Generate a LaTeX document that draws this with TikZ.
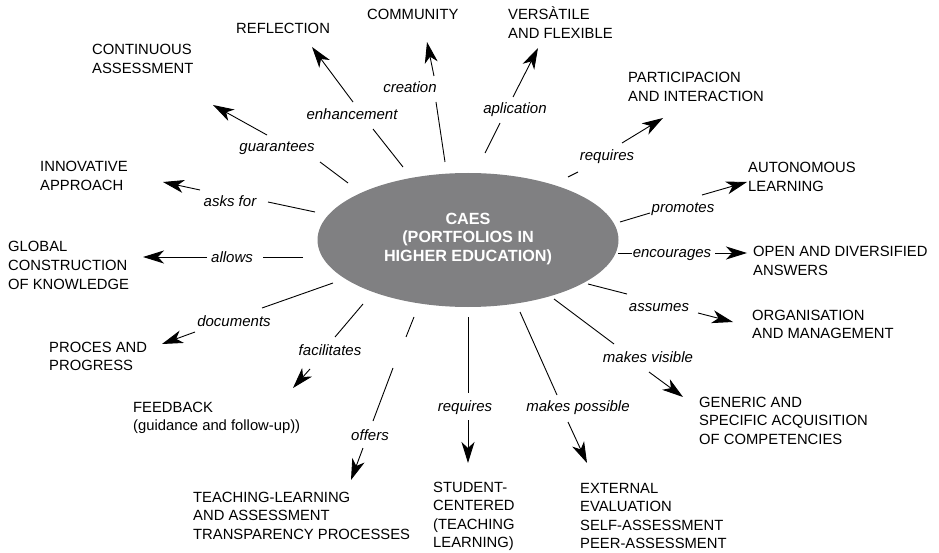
\documentclass[tikz,border=0pt]{standalone}
\usepackage{fontspec}
\setmainfont{Liberation Sans}
\usetikzlibrary{arrows.meta}
\definecolor{ellgray}{RGB}{128,128,130}
\begin{document}
\begin{tikzpicture}[x=1pt,y=-1pt,
  concept/.style={anchor=base west, inner sep=0pt, align=left, font=\fontsize{14.8}{18.5}\selectfont},
  rel/.style={anchor=base, inner sep=0pt, font=\fontsize{15}{18}\selectfont\itshape},
  link/.style={line width=0.9pt},
  arr/.style={line width=0.9pt, -{Stealth[length=21pt,width=13pt,inset=6pt]}}]
\useasboundingbox (0,0) rectangle (939,553);

% central ellipse
\fill[ellgray] (468,240) ellipse [x radius=150.5, y radius=67];
\node[align=center, inner sep=0pt, text=white, font=\fontsize{16.2}{18.4}\selectfont\bfseries] (caes) at (468,239)
  {CAES\\(PORTFOLIOS IN\\HIGHER EDUCATION)};

% concepts (positioned by the baseline of their last line)
\node[concept] (community) at (367,20) {COMMUNITY};
\node[concept] (reflection) at (236,34) {REFLECTION};
\node[concept] (continuous) at (92,73.5) {CONTINUOUS\\ASSESSMENT};
\node[concept] (versatile) at (508,38.5) {VERSÀTILE\\AND FLEXIBLE};
\node[concept] (particip) at (628,101.5) {PARTICIPACION\\AND INTERACTION};
\node[concept] (innovative) at (40,190.5) {INNOVATIVE\\APPROACH};
\node[concept] (autonomous) at (748,191.5) {AUTONOMOUS\\LEARNING};
\node[concept] (global) at (8,289) {GLOBAL\\CONSTRUCTION\\OF KNOWLEDGE};
\node[concept] (open) at (753,275.5) {OPEN AND DIVERSIFIED\\ANSWERS};
\node[concept] (organisation) at (752,338.5) {ORGANISATION\\AND MANAGEMENT};
\node[concept] (proces) at (49,370.5) {PROCES AND\\PROGRESS};
\node[concept] (generic) at (699,444) {GENERIC AND\\SPECIFIC ACQUISITION\\OF COMPETENCIES};
\node[concept] (feedback) at (133,430.5) {FEEDBACK\\(guidance and follow-up))};
\node[concept] (teaching) at (193,539) {TEACHING-LEARNING\\AND ASSESSMENT\\TRANSPARENCY PROCESSES};
\node[concept] (student) at (433,547.5) {STUDENT-\\CENTERED\\(TEACHING\\LEARNING)};
\node[concept] (external) at (580,548.5) {EXTERNAL\\EVALUATION\\SELF-ASSESSMENT\\PEER-ASSESSMENT};

% relation labels
\node[rel] (l-enh) at (352,120) {enhancement};
\node[rel] (l-cre) at (410,93) {creation};
\node[rel] (l-gua) at (277,152) {guarantees};
\node[rel] (l-ask) at (230,207) {asks for};
\node[rel] (l-all) at (232,262) {allows};
\node[rel] (l-apl) at (515,114) {aplication};
\node[rel] (l-req1) at (607,161) {requires};
\node[rel] (l-pro) at (683,213) {promotes};
\node[rel] (l-enc) at (672,258) {encourages};
\node[rel] (l-ass) at (659,311) {assumes};
\node[rel] (l-vis) at (648,362) {makes visible};
\node[rel] (l-pos) at (578,411) {makes possible};
\node[rel] (l-req2) at (465,411) {requires};
\node[rel] (l-off) at (370,440) {offers};
\node[rel] (l-fac) at (330,355) {facilitates};
\node[rel] (l-doc) at (234,326) {documents};

% connector points
\coordinate (enh-a) at (403,167); \coordinate (enh-b) at (373,129);
\coordinate (enh-c) at (353,102); \coordinate (enh-t) at (312,47);
\coordinate (cre-a) at (445,162); \coordinate (cre-b) at (436,102);
\coordinate (cre-c) at (434,76);  \coordinate (cre-t) at (427,42);
\coordinate (gua-a) at (348,183); \coordinate (gua-b) at (320,162);
\coordinate (gua-c) at (267,135); \coordinate (gua-t) at (213,105);
\coordinate (ask-a) at (315,212); \coordinate (ask-b) at (268,202);
\coordinate (ask-c) at (200,190); \coordinate (ask-t) at (163,182);
\coordinate (all-a) at (303,257); \coordinate (all-b) at (263,257);
\coordinate (all-c) at (207,257); \coordinate (all-t) at (143,257);
\coordinate (apl-a) at (485,153); \coordinate (apl-b) at (500,123);
\coordinate (apl-c) at (513,97);  \coordinate (apl-t) at (538,48);
\coordinate (rq1-a) at (568,177); \coordinate (rq1-b) at (578,172);
\coordinate (rq1-c) at (622,143); \coordinate (rq1-t) at (663,118);
\coordinate (pro-a) at (620,222); \coordinate (pro-b) at (650,213);
\coordinate (pro-c) at (702,195); \coordinate (pro-t) at (747,182);
\coordinate (enc-a) at (618,253); \coordinate (enc-b) at (632,253);
\coordinate (enc-c) at (715,253); \coordinate (enc-t) at (747,253);
\coordinate (ass-a) at (588,284); \coordinate (ass-b) at (627,294);
\coordinate (ass-c) at (698,313); \coordinate (ass-t) at (733,322);
\coordinate (vis-a) at (554,299); \coordinate (vis-b) at (614,344);
\coordinate (vis-c) at (649,372); \coordinate (vis-t) at (683,397);
\coordinate (pos-a) at (520,312); \coordinate (pos-b) at (557,395);
\coordinate (pos-c) at (568,422); \coordinate (pos-t) at (587,463);
\coordinate (rq2-a) at (468,317); \coordinate (rq2-b) at (468,393);
\coordinate (rq2-c) at (468,420); \coordinate (rq2-t) at (468,463);
\coordinate (off-a) at (414,317); \coordinate (off-b) at (406,337);
\coordinate (off-d) at (393,368); \coordinate (off-e) at (373,421);
\coordinate (off-c) at (363,448); \coordinate (off-t) at (351,480);
\coordinate (fac-a) at (363,304); \coordinate (fac-b) at (335,337);
\coordinate (fac-c) at (310,369); \coordinate (fac-t) at (293,388);
\coordinate (doc-a) at (333,283); \coordinate (doc-b) at (262,308);
\coordinate (doc-c) at (195,332); \coordinate (doc-t) at (162,344);

% connectors
\draw[link] (enh-a) -- (enh-b); \draw[arr] (enh-c) -- (enh-t);
\draw[link] (cre-a) -- (cre-b); \draw[arr] (cre-c) -- (cre-t);
\draw[link] (gua-a) -- (gua-b); \draw[arr] (gua-c) -- (gua-t);
\draw[link] (ask-a) -- (ask-b); \draw[arr] (ask-c) -- (ask-t);
\draw[link] (all-a) -- (all-b); \draw[arr] (all-c) -- (all-t);
\draw[link] (apl-a) -- (apl-b); \draw[arr] (apl-c) -- (apl-t);
\draw[link] (rq1-a) -- (rq1-b); \draw[arr] (rq1-c) -- (rq1-t);
\draw[link] (pro-a) -- (pro-b); \draw[arr] (pro-c) -- (pro-t);
\draw[link] (enc-a) -- (enc-b); \draw[arr] (enc-c) -- (enc-t);
\draw[link] (ass-a) -- (ass-b); \draw[arr] (ass-c) -- (ass-t);
\draw[link] (vis-a) -- (vis-b); \draw[arr] (vis-c) -- (vis-t);
\draw[link] (pos-a) -- (pos-b); \draw[arr] (pos-c) -- (pos-t);
\draw[link] (rq2-a) -- (rq2-b); \draw[arr] (rq2-c) -- (rq2-t);
\draw[link] (off-a) -- (off-b); \draw[link] (off-d) -- (off-e); \draw[arr] (off-c) -- (off-t);
\draw[link] (fac-a) -- (fac-b); \draw[arr] (fac-c) -- (fac-t);
\draw[link] (doc-a) -- (doc-b); \draw[arr] (doc-c) -- (doc-t);
\end{tikzpicture}
\end{document}
